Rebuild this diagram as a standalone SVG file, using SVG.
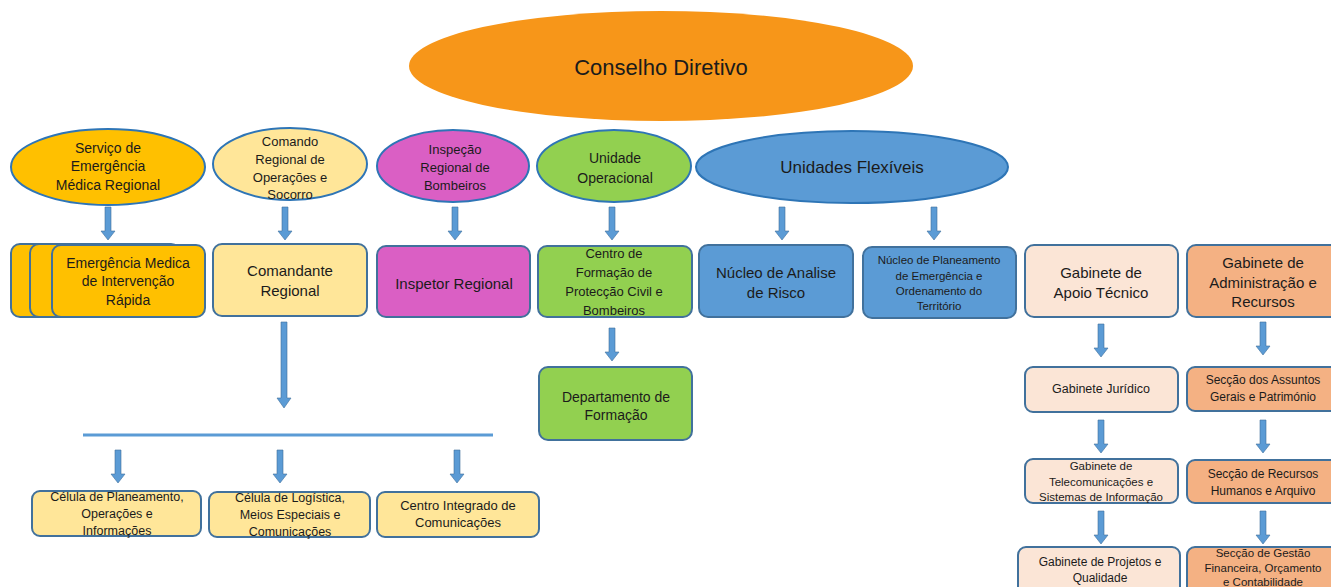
<svg xmlns="http://www.w3.org/2000/svg" width="1331" height="587" viewBox="0 0 1331 587">
<style>
text{font-family:"Liberation Sans",Arial,sans-serif;fill:#1b1b1b;text-anchor:middle;dominant-baseline:central}
.el{stroke:#2E75B6;stroke-width:2}
.bx{stroke:#41719C;stroke-width:2}
.arr{fill:#5B9BD5;stroke:#41719C;stroke-width:0.6}
.gold{fill:#FFC000}.ly{fill:#FFE699}.mag{fill:#DA5FC4}.grn{fill:#92D050}.blu{fill:#5B9BD5}.pch{fill:#FBE5D6}.org{fill:#F4B183}
.f15{font-size:15px}.f14{font-size:14px}.f13{font-size:13px}.f12{font-size:12.5px}.f11{font-size:11.5px}
</style>
<defs>
<path id="ar" d="M-3,0 H3 V24 H7 L0,33 L-7,24 H-3 Z"/>
</defs>
<rect width="1331" height="587" fill="#fff"/>
<g id="connectors">
<use href="#ar" class="arr" x="108" y="207"/>
<use href="#ar" class="arr" x="285" y="207"/>
<use href="#ar" class="arr" x="455" y="207"/>
<use href="#ar" class="arr" x="612" y="207"/>
<use href="#ar" class="arr" x="782" y="207"/>
<use href="#ar" class="arr" x="934" y="207"/>
<path d="M281,322 H287 V398 H291 L284,408 L277,398 H281 Z" class="arr"/>
<line x1="83" y1="435" x2="493" y2="435" stroke="#5B9BD5" stroke-width="3"/>
<use href="#ar" class="arr" x="118" y="450"/>
<use href="#ar" class="arr" x="280" y="450"/>
<use href="#ar" class="arr" x="457" y="450"/>
<use href="#ar" class="arr" x="612" y="328"/>
<use href="#ar" class="arr" x="1101" y="324"/>
<use href="#ar" class="arr" x="1263" y="322"/>
<use href="#ar" class="arr" x="1101" y="420"/>
<use href="#ar" class="arr" x="1263" y="420"/>
<use href="#ar" class="arr" x="1101" y="511"/>
<use href="#ar" class="arr" x="1263" y="511"/>
</g>
<g id="conselho">
<ellipse cx="661" cy="66" rx="252" ry="55" fill="#F79619"/>
<text x="661" y="67" style="font-size:22px">Conselho Diretivo</text>
</g>
<g id="servico">
<ellipse cx="108" cy="167" rx="97" ry="38" class="el gold"/>
<text x="108" y="148" class="f14">Serviço de</text>
<text x="108" y="166" class="f14">Emergência</text>
<text x="108" y="185" class="f14">Médica Regional</text>
</g>
<g id="comando">
<ellipse cx="290" cy="164" rx="77" ry="36" class="el ly"/>
<text x="290" y="141" class="f13">Comando</text>
<text x="290" y="159" class="f13">Regional de</text>
<text x="290" y="177" class="f13">Operações e</text>
<text x="290" y="194" class="f13">Socorro</text>
</g>
<g id="inspecao">
<ellipse cx="453" cy="166" rx="76" ry="36" class="el mag"/>
<text x="455" y="149" class="f13">Inspeção</text>
<text x="455" y="167" class="f13">Regional de</text>
<text x="455" y="185" class="f13">Bombeiros</text>
</g>
<g id="unidade">
<ellipse cx="614" cy="166" rx="77" ry="36" class="el grn"/>
<text x="615" y="158" class="f14">Unidade</text>
<text x="615" y="178" class="f14">Operacional</text>
</g>
<g id="flexiveis">
<ellipse cx="852" cy="167" rx="156" ry="36" class="el blu"/>
<text x="852" y="167" style="font-size:17px">Unidades Flexíveis</text>
</g>
<g id="emergencia">
<rect x="11" y="244" width="164" height="73" rx="9" class="bx gold"/>
<rect x="30" y="244" width="150" height="73" rx="9" class="bx gold"/>
<rect x="52" y="245" width="153" height="72" rx="9" class="bx gold"/>
<text x="128" y="263" class="f14">Emergência Medica</text>
<text x="128" y="281" class="f14">de Intervenção</text>
<text x="128" y="300" class="f14">Rápida</text>
</g>
<g id="comandante">
<rect x="213" y="244" width="154" height="72" rx="9" class="bx ly"/>
<text x="290" y="270" class="f15">Comandante</text>
<text x="290" y="290" class="f15">Regional</text>
</g>
<g id="inspetor">
<rect x="377" y="246" width="153" height="71" rx="9" class="bx mag"/>
<text x="454" y="283" class="f15">Inspetor Regional</text>
</g>
<g id="centro-formacao">
<rect x="538" y="246" width="154" height="71" rx="9" class="bx grn"/>
<text x="614" y="253" class="f13">Centro de</text>
<text x="614" y="272" class="f13">Formação de</text>
<text x="614" y="291" class="f13">Protecção Civil e</text>
<text x="614" y="310" class="f13">Bombeiros</text>
</g>
<g id="departamento">
<rect x="539" y="367" width="153" height="73" rx="9" class="bx grn"/>
<text x="616" y="397" class="f14">Departamento de</text>
<text x="616" y="415" class="f14">Formação</text>
</g>
<g id="nucleo-risco">
<rect x="699" y="245" width="154" height="72" rx="9" class="bx blu"/>
<text x="776" y="272" class="f15">Núcleo de Analise</text>
<text x="776" y="292" class="f15">de Risco</text>
</g>
<g id="nucleo-planeamento">
<rect x="863" y="247" width="153" height="71" rx="9" class="bx blu"/>
<text x="939" y="260" class="f11">Núcleo de Planeamento</text>
<text x="939" y="276" class="f11">de Emergência e</text>
<text x="939" y="291" class="f11">Ordenamento do</text>
<text x="939" y="306" class="f11">Território</text>
</g>
<g id="apoio-tecnico">
<rect x="1025" y="245" width="153" height="72" rx="9" class="bx pch"/>
<text x="1101" y="272" class="f15">Gabinete de</text>
<text x="1101" y="292" class="f15">Apoio Técnico</text>
</g>
<g id="administracao">
<rect x="1187" y="245" width="155" height="72" rx="9" class="bx org"/>
<text x="1263" y="262" class="f15">Gabinete de</text>
<text x="1263" y="282" class="f15">Administração e</text>
<text x="1263" y="301" class="f15">Recursos</text>
</g>
<g id="juridico">
<rect x="1025" y="367" width="153" height="45" rx="8" class="bx pch"/>
<text x="1101" y="389" class="f12">Gabinete Jurídico</text>
</g>
<g id="assuntos-gerais">
<rect x="1187" y="367" width="155" height="44" rx="8" class="bx org"/>
<text x="1263" y="380" style="font-size:12px">Secção dos Assuntos</text>
<text x="1263" y="397" style="font-size:12px">Gerais e Património</text>
</g>
<g id="telecom">
<rect x="1025" y="459" width="153" height="44" rx="8" class="bx pch"/>
<text x="1101" y="466" class="f11">Gabinete de</text>
<text x="1101" y="482" class="f11">Telecomunicações e</text>
<text x="1101" y="497" class="f11">Sistemas de Informação</text>
</g>
<g id="recursos-humanos">
<rect x="1187" y="460" width="155" height="43" rx="8" class="bx org"/>
<text x="1263" y="474" style="font-size:12px">Secção de Recursos</text>
<text x="1263" y="491" style="font-size:12px">Humanos e Arquivo</text>
</g>
<g id="projetos">
<rect x="1018" y="547" width="162" height="50" rx="8" class="bx pch"/>
<text x="1100" y="562" style="font-size:12px">Gabinete de Projetos e</text>
<text x="1100" y="578" style="font-size:12px">Qualidade</text>
</g>
<g id="gestao-financeira">
<rect x="1187" y="547" width="155" height="50" rx="8" class="bx org"/>
<text x="1263" y="553" class="f11">Secção de Gestão</text>
<text x="1263" y="568" class="f11">Financeira, Orçamento</text>
<text x="1263" y="582" class="f11">e Contabilidade</text>
</g>
<g id="celula-planeamento">
<rect x="32" y="491" width="169" height="45" rx="8" class="bx ly"/>
<text x="117" y="497" class="f12">Célula de Planeamento,</text>
<text x="117" y="514" class="f12">Operações e</text>
<text x="117" y="531" class="f12">Informações</text>
</g>
<g id="celula-logistica">
<rect x="209" y="492" width="161" height="45" rx="8" class="bx ly"/>
<text x="290" y="498" class="f12">Célula de Logística,</text>
<text x="290" y="515" class="f12">Meios Especiais e</text>
<text x="290" y="532" class="f12">Comunicações</text>
</g>
<g id="centro-integrado">
<rect x="377" y="492" width="162" height="45" rx="8" class="bx ly"/>
<text x="458" y="505" class="f13">Centro Integrado de</text>
<text x="458" y="522" class="f13">Comunicações</text>
</g>
</svg>
